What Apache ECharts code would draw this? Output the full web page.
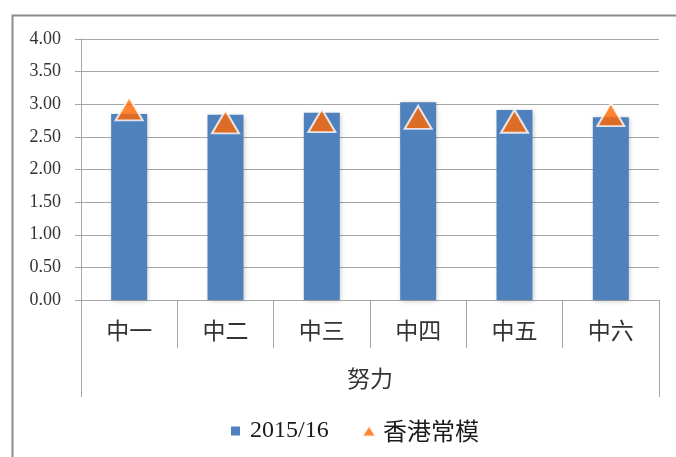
<!DOCTYPE html>
<html>
<head>
<meta charset="utf-8">
<script src="https://cdn.jsdelivr.net/npm/echarts@6/dist/echarts.min.js"></script>
<style>
  html, body { margin: 0; padding: 0; background: #ffffff; }
  #chart { width: 676px; height: 457px; }
</style>
</head>
<body>
<div id="chart"></div>
<script>
// Grades (categories) and the group they belong to
const categories = ['中一', '中二', '中三', '中四', '中五', '中六'];
const groupLabel = ['努力'];

// Series names
const barName = '2015/16';
const normName = '香港常模';

// Series values
const schoolValues = [2.85, 2.84, 2.87, 3.03, 2.91, 2.80];
const normValues = [2.93, 2.73, 2.75, 2.80, 2.74, 2.84];

// Value axis range
const yMin = 0, yMax = 4, yStep = 0.5;

const serif = "'Liberation Serif', 'Times New Roman', 'Noto Sans CJK TC', serif";
const cjk = "'Noto Sans CJK TC', 'Noto Sans CJK SC', sans-serif";
const lineGray = '#a6a6a6';

const chart = echarts.init(document.getElementById('chart'), null, { renderer: 'canvas' });

chart.setOption({
  animation: false,
  backgroundColor: '#ffffff',
  graphic: [{
    type: 'rect',
    left: 10, top: 13,
    shape: { width: 720, height: 500 },
    style: { fill: 'none', stroke: '#8c8c8c', lineWidth: 2 },
    silent: true
  }],
  legend: [{
    left: 226, top: 414,
    itemWidth: 9, itemHeight: 9, itemGap: 0,
    data: [{ name: barName, icon: 'rect' }],
    textStyle: { fontFamily: serif, fontSize: 24, color: '#1a1a1a', padding: [0, 0, 0, 5] }
  }, {
    left: 356, top: 414,
    itemWidth: 14, itemHeight: 11, itemGap: 0,
    data: [{ name: normName, icon: 'triangle' }],
    textStyle: { fontFamily: cjk, fontSize: 24, color: '#1a1a1a', padding: [0, 0, 0, 2] }
  }],
  grid: { left: 81, right: 17, top: 39, bottom: 157, containLabel: false },
  xAxis: [{
    type: 'category',
    data: categories,
    boundaryGap: true,
    position: 'bottom',
    axisLine: { show: true, lineStyle: { color: lineGray, width: 1 } },
    axisTick: { show: true, interval: 0, length: 48, lineStyle: { color: lineGray } },
    axisLabel: { interval: 0, margin: 19, fontFamily: cjk, fontSize: 23, color: '#333333' },
    splitLine: { show: false }
  }, {
    type: 'category',
    data: groupLabel,
    boundaryGap: true,
    position: 'bottom',
    axisLine: { show: false },
    axisTick: { show: true, length: 97, lineStyle: { color: lineGray } },
    axisLabel: { margin: 67, fontFamily: cjk, fontSize: 23, color: '#333333' },
    splitLine: { show: false }
  }],
  yAxis: {
    type: 'value',
    min: yMin, max: yMax, interval: yStep,
    axisLine: { show: true, lineStyle: { color: lineGray } },
    axisTick: { show: true, length: 6, lineStyle: { color: lineGray } },
    axisLabel: {
      margin: 20,
      fontFamily: serif, fontSize: 18, color: '#333333',
      formatter: v => v.toFixed(2)
    },
    splitLine: { show: true, lineStyle: { color: lineGray, width: 1 } }
  },
  series: [{
    name: barName,
    type: 'bar',
    xAxisIndex: 0,
    data: schoolValues,
    barWidth: 36,
    itemStyle: {
      color: '#4f81bd',
      shadowColor: 'rgba(0,0,0,0.22)',
      shadowBlur: 5,
      shadowOffsetX: 1,
      shadowOffsetY: 1
    },
    z: 2
  }, {
    name: normName,
    type: 'scatter',
    xAxisIndex: 0,
    data: normValues,
    symbol: 'triangle',
    symbolSize: [27, 23],
    itemStyle: {
      color: '#ff6600',
      borderColor: '#ffffff',
      borderWidth: 2
    },
    z: 3
  }]
});
</script>
</body>
</html>
